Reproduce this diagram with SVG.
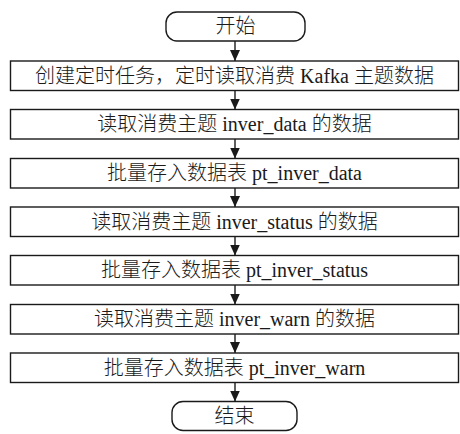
<svg xmlns="http://www.w3.org/2000/svg" width="460" height="434" viewBox="0 0 460 434">
  <style>
    .box { fill: #ffffff; stroke: #1a1a1a; stroke-width: 1.4; }
    .lbl { font-family: "Liberation Serif", "Noto Sans CJK SC", serif; font-size: 20px; font-weight: 300; fill: #1a1a1a; text-anchor: middle; }
    .conn { stroke: #1a1a1a; stroke-width: 1.4; fill: none; marker-end: url(#arrow); }
  </style>
  <defs>
    <marker id="arrow" markerUnits="userSpaceOnUse" viewBox="0 0 11 10" refX="11" refY="5" markerWidth="11" markerHeight="10" orient="auto">
      <path d="M0,0 L11,5 L0,10 z" fill="#1a1a1a"/>
    </marker>
  </defs>
  <rect width="460" height="434" fill="#ffffff"/>

  <g id="start">
    <rect class="box" x="166" y="12" width="139" height="29" rx="11" ry="11"/>
    <text class="lbl" x="235.5" y="33">开始</text>
  </g>
  <g id="step1">
    <rect class="box" x="10.5" y="61" width="448" height="29.5"/>
    <text class="lbl" x="234.5" y="82.5">创建定时任务，定时读取消费 Kafka 主题数据</text>
  </g>
  <g id="step2">
    <rect class="box" x="10.5" y="109.5" width="448" height="29.5"/>
    <text class="lbl" x="234.5" y="131">读取消费主题 inver_data 的数据</text>
  </g>
  <g id="step3">
    <rect class="box" x="10.5" y="158.5" width="448" height="29.5"/>
    <text class="lbl" x="234.5" y="180">批量存入数据表 pt_inver_data</text>
  </g>
  <g id="step4">
    <rect class="box" x="10.5" y="207" width="448" height="29.5"/>
    <text class="lbl" x="234.5" y="228.5">读取消费主题 inver_status 的数据</text>
  </g>
  <g id="step5">
    <rect class="box" x="10.5" y="255.5" width="448" height="29.5"/>
    <text class="lbl" x="234.5" y="277">批量存入数据表 pt_inver_status</text>
  </g>
  <g id="step6">
    <rect class="box" x="10.5" y="304.5" width="448" height="29.5"/>
    <text class="lbl" x="234.5" y="326">读取消费主题 inver_warn 的数据</text>
  </g>
  <g id="step7">
    <rect class="box" x="10.5" y="353" width="448" height="29.5"/>
    <text class="lbl" x="234.5" y="374.5">批量存入数据表 pt_inver_warn</text>
  </g>
  <g id="end">
    <rect class="box" x="172" y="401.5" width="125" height="29" rx="11" ry="11"/>
    <text class="lbl" x="234.5" y="422.5">结束</text>
  </g>

  <g id="connectors">
    <line class="conn" x1="235" y1="41" x2="235" y2="61"/>
    <line class="conn" x1="235" y1="90.5" x2="235" y2="109.5"/>
    <line class="conn" x1="235" y1="139" x2="235" y2="158.5"/>
    <line class="conn" x1="235" y1="188" x2="235" y2="207"/>
    <line class="conn" x1="235" y1="236.5" x2="235" y2="255.5"/>
    <line class="conn" x1="235" y1="285" x2="235" y2="304.5"/>
    <line class="conn" x1="235" y1="334" x2="235" y2="353"/>
    <line class="conn" x1="235" y1="382.5" x2="235" y2="401.5"/>
  </g>
</svg>
